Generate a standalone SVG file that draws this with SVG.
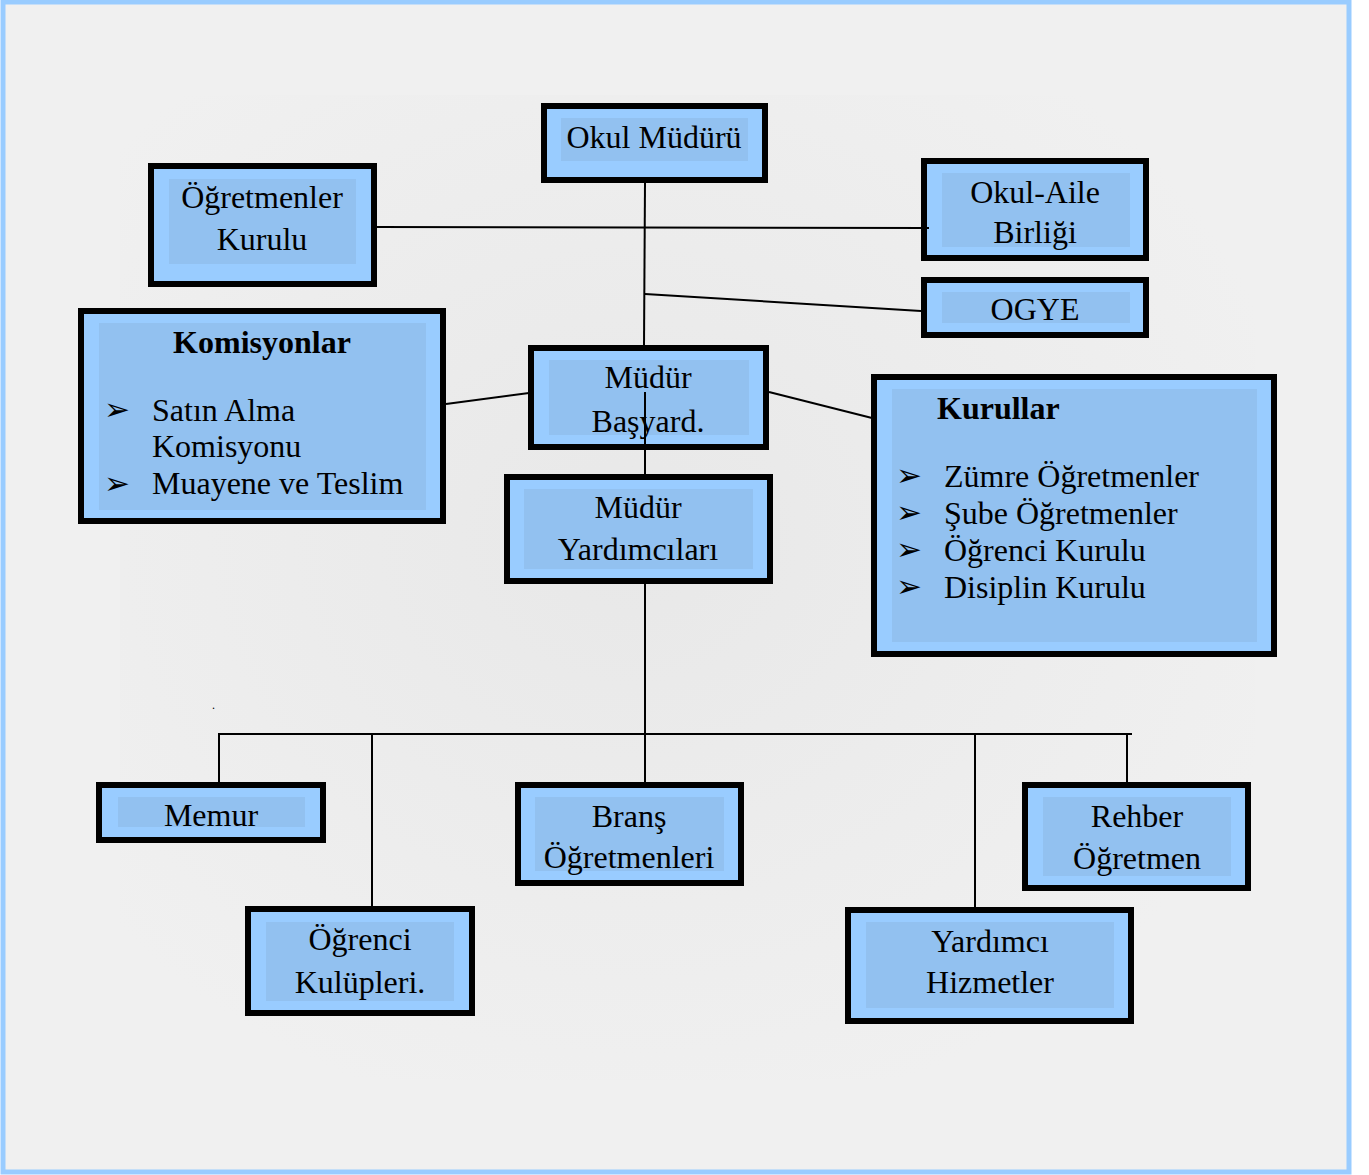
<svg xmlns="http://www.w3.org/2000/svg" width="1369" height="1175" viewBox="0 0 1369 1175">
<defs>
<radialGradient id="bgGrad" cx="0.45" cy="0.45" r="0.6">
<stop offset="0" stop-color="#E8E8E8"/>
<stop offset="1" stop-color="#F0F0F0"/>
</radialGradient>
</defs>
<style>
.box{fill:#99CCFF;stroke:#000000;stroke-width:6}
.inner{fill:#92C1F0}
.t{font-family:"Liberation Serif","Times New Roman",serif;font-size:32px;fill:#000000;text-anchor:middle}
.tl{font-family:"Liberation Serif","Times New Roman",serif;font-size:32px;fill:#000000}
.tk{font-family:"Liberation Serif","Times New Roman",serif;font-size:32px;fill:#000000}
.b{font-weight:bold}
.bul{font-family:"DejaVu Sans",sans-serif;font-size:31px;fill:#000000}
.ln{stroke:#000000;stroke-width:2;fill:none}
</style>
<rect x="0" y="0" width="1369" height="1175" fill="#FFFFFF"/>
<rect x="3" y="2" width="1346" height="1170" fill="#F0F0F0" stroke="#99CCFF" stroke-width="5"/>
<rect x="120" y="95" width="1135" height="985" fill="url(#bgGrad)"/>

<g id="okul-muduru">
<rect class="box" x="544" y="106" width="221" height="74"/>
<rect class="inner" x="561" y="118" width="187" height="43"/>
<text class="t" x="654" y="148">Okul Müdürü</text>
</g>

<g id="ogretmenler-kurulu">
<rect class="box" x="151" y="166" width="223" height="118"/>
<rect class="inner" x="169" y="179" width="187" height="85"/>
<text class="t" x="262" y="208">Öğretmenler</text>
<text class="t" x="262" y="250">Kurulu</text>
</g>

<g id="okul-aile-birligi">
<rect class="box" x="924" y="161" width="222" height="97"/>
<rect class="inner" x="942" y="173" width="188" height="74"/>
<text class="t" x="1035" y="203">Okul-Aile</text>
<text class="t" x="1035" y="243">Birliği</text>
</g>

<g id="ogye">
<rect class="box" x="924" y="280" width="222" height="55"/>
<rect class="inner" x="942" y="292" width="188" height="31"/>
<text class="t" x="1035" y="320">OGYE</text>
</g>

<g id="komisyonlar">
<rect class="box" x="81" y="311" width="362" height="210"/>
<rect class="inner" x="99" y="323" width="327" height="187"/>
<text class="t b" x="262" y="353">Komisyonlar</text>
<text class="bul" x="104" y="420">➢</text>
<text class="tl" x="152" y="421">Satın Alma</text>
<text class="tl" x="152" y="457">Komisyonu</text>
<text class="bul" x="104" y="494">➢</text>
<text class="tl" x="152" y="494">Muayene ve Teslim</text>
</g>

<g id="mudur-basyard">
<rect class="box" x="531" y="348" width="235" height="99"/>
<rect class="inner" x="549" y="360" width="200" height="75"/>
<text class="t" x="648" y="388">Müdür</text>
<text class="t" x="648" y="432">Başyard.</text>
</g>

<g id="mudur-yardimcilari">
<rect class="box" x="507" y="477" width="263" height="104"/>
<rect class="inner" x="524" y="489" width="229" height="80"/>
<text class="t" x="638" y="518">Müdür</text>
<text class="t" x="638" y="560">Yardımcıları</text>
</g>

<g id="kurullar">
<rect class="box" x="874" y="377" width="400" height="277"/>
<rect class="inner" x="892" y="389" width="365" height="253"/>
<text class="tk b" x="937" y="419">Kurullar</text>
<text class="bul" x="896" y="486">➢</text>
<text class="tk" x="944" y="487">Zümre Öğretmenler</text>
<text class="bul" x="896" y="523">➢</text>
<text class="tk" x="944" y="524">Şube Öğretmenler</text>
<text class="bul" x="896" y="560">➢</text>
<text class="tk" x="944" y="561">Öğrenci Kurulu</text>
<text class="bul" x="896" y="597">➢</text>
<text class="tk" x="944" y="598">Disiplin Kurulu</text>
</g>

<g id="memur">
<rect class="box" x="99" y="785" width="224" height="55"/>
<rect class="inner" x="118" y="797" width="187" height="30"/>
<text class="t" x="211" y="826">Memur</text>
</g>

<g id="ogrenci-kulupleri">
<rect class="box" x="248" y="909" width="224" height="104"/>
<rect class="inner" x="266" y="922" width="188" height="79"/>
<text class="t" x="360" y="950">Öğrenci</text>
<text class="t" x="360" y="993">Kulüpleri.</text>
</g>

<g id="brans-ogretmenleri">
<rect class="box" x="518" y="785" width="223" height="98"/>
<rect class="inner" x="535" y="797" width="189" height="74"/>
<text class="t" x="629" y="827">Branş</text>
<text class="t" x="629" y="868">Öğretmenleri</text>
</g>

<g id="rehber-ogretmen">
<rect class="box" x="1025" y="785" width="223" height="103"/>
<rect class="inner" x="1043" y="797" width="188" height="79"/>
<text class="t" x="1137" y="827">Rehber</text>
<text class="t" x="1137" y="869">Öğretmen</text>
</g>

<g id="yardimci-hizmetler">
<rect class="box" x="848" y="910" width="283" height="111"/>
<rect class="inner" x="866" y="922" width="248" height="86"/>
<text class="t" x="990" y="952">Yardımcı</text>
<text class="t" x="990" y="993">Hizmetler</text>
</g>

<g id="connectors">
<line class="ln" x1="645" y1="182" x2="644" y2="346"/>
<line class="ln" x1="377" y1="227" x2="929" y2="228"/>
<line class="ln" x1="645" y1="294" x2="921" y2="311"/>
<line class="ln" x1="446" y1="404" x2="529" y2="393"/>
<line class="ln" x1="769" y1="392" x2="872" y2="418"/>
<line class="ln" x1="645" y1="392" x2="645" y2="475"/>
<line class="ln" x1="645" y1="584" x2="645" y2="783"/>
<line class="ln" x1="218" y1="734" x2="1132" y2="734"/>
<line class="ln" x1="219" y1="733" x2="219" y2="783"/>
<line class="ln" x1="372" y1="733" x2="372" y2="907"/>
<line class="ln" x1="975" y1="733" x2="975" y2="908"/>
<line class="ln" x1="1127" y1="733" x2="1127" y2="783"/>
</g>
<text x="212" y="709" font-family="Liberation Serif, serif" font-size="12" fill="#000000">.</text>
</svg>
